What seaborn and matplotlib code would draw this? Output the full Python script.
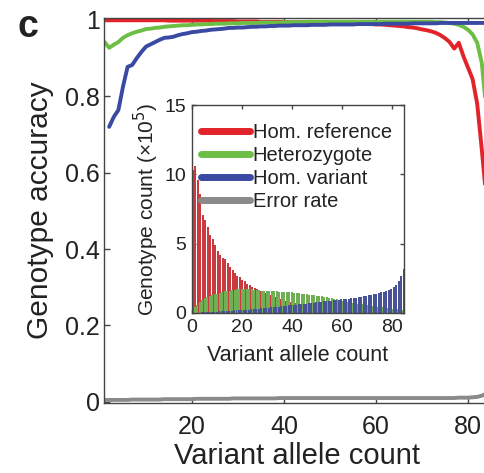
import numpy as np
import pandas as pd
import matplotlib
matplotlib.use("Agg")
import matplotlib.pyplot as plt
import seaborn as sns

# main panel: genotype accuracy vs variant allele count (x = 1..85)
acc_x = list(range(1, 86))
acc_homref = [0.999, 0.999, 0.999, 0.999, 0.999, 0.999, 0.999, 0.999, 0.999, 0.999,
              0.999, 0.999, 0.999, 0.999, 0.998, 0.998, 0.998, 0.998, 0.998, 0.998,
              0.998, 0.998, 0.998, 0.997, 0.997, 0.997, 0.997, 0.997, 0.997, 0.996,
              0.996, 0.996, 0.996, 0.996, 0.995, 0.995, 0.995, 0.995, 0.995, 0.995,
              0.994, 0.994, 0.994, 0.994, 0.993, 0.993, 0.993, 0.993, 0.992, 0.992,
              0.992, 0.991, 0.991, 0.991, 0.990, 0.990, 0.990, 0.989, 0.989, 0.988,
              0.988, 0.987, 0.986, 0.985, 0.984, 0.983, 0.981, 0.980, 0.978, 0.975,
              0.973, 0.970, 0.966, 0.960, 0.952, 0.942, 0.925, 0.940, 0.905, 0.875,
              0.845, 0.780, 0.660, 0.530, 0.380]
acc_het = [0.942, 0.927, 0.935, 0.942, 0.953, 0.960, 0.965, 0.969, 0.972, 0.976,
           0.977, 0.979, 0.980, 0.982, 0.983, 0.984, 0.985, 0.986, 0.986, 0.987,
           0.988, 0.988, 0.989, 0.989, 0.990, 0.990, 0.990, 0.991, 0.991, 0.991,
           0.992, 0.992, 0.992, 0.992, 0.993, 0.993, 0.993, 0.993, 0.993, 0.994,
           0.994, 0.994, 0.994, 0.994, 0.995, 0.995, 0.995, 0.995, 0.995, 0.995,
           0.995, 0.995, 0.995, 0.995, 0.995, 0.995, 0.995, 0.995, 0.995, 0.995,
           0.995, 0.995, 0.995, 0.995, 0.995, 0.995, 0.995, 0.995, 0.995, 0.995,
           0.995, 0.995, 0.994, 0.994, 0.993, 0.992, 0.990, 0.987, 0.982, 0.974,
           0.962, 0.940, 0.887, 0.760, 0.600]
acc_homvar = [np.nan, 0.720, 0.746, 0.764, 0.825, 0.877, 0.882, 0.900, 0.916, 0.930,
              0.936, 0.942, 0.948, 0.953, 0.954, 0.956, 0.960, 0.963, 0.965, 0.968,
              0.969, 0.971, 0.972, 0.974, 0.975, 0.976, 0.977, 0.979, 0.979, 0.980,
              0.980, 0.981, 0.982, 0.982, 0.983, 0.983, 0.984, 0.984, 0.985, 0.985,
              0.985, 0.986, 0.986, 0.986, 0.986, 0.987, 0.987, 0.987, 0.987, 0.988,
              0.988, 0.988, 0.988, 0.988, 0.988, 0.989, 0.989, 0.989, 0.989, 0.989,
              0.989, 0.990, 0.990, 0.990, 0.990, 0.990, 0.990, 0.991, 0.991, 0.991,
              0.991, 0.991, 0.991, 0.992, 0.992, 0.992, 0.992, 0.992, 0.992, 0.992,
              0.992, 0.992, 0.992, 0.992, 0.992]
err_rate = [0.005, 0.005, 0.005, 0.005, 0.005, 0.005, 0.006, 0.006, 0.006, 0.006,
            0.006, 0.006, 0.006, 0.007, 0.007, 0.007, 0.007, 0.007, 0.007, 0.007,
            0.008, 0.008, 0.008, 0.008, 0.008, 0.008, 0.008, 0.008, 0.009, 0.009,
            0.009, 0.009, 0.009, 0.009, 0.009, 0.009, 0.009, 0.009, 0.010, 0.010,
            0.010, 0.010, 0.010, 0.010, 0.010, 0.010, 0.010, 0.010, 0.010, 0.010,
            0.010, 0.010, 0.010, 0.010, 0.010, 0.010, 0.010, 0.010, 0.010, 0.010,
            0.010, 0.010, 0.010, 0.010, 0.010, 0.010, 0.010, 0.010, 0.010, 0.010,
            0.010, 0.010, 0.010, 0.010, 0.010, 0.010, 0.010, 0.011, 0.011, 0.011,
            0.012, 0.013, 0.016, 0.022, 0.030]

# inset: genotype counts (x 10^5) vs variant allele count (x = 0..84)
cnt_x = list(range(0, 85))
cnt_homref = [8.0, 10.3, 10.6, 9.6, 8.6, 7.1, 6.7, 6.2, 5.6, 5.3,
              4.9, 4.5, 4.2, 4.0, 3.9, 3.6, 3.3, 3.1, 2.9, 2.7,
              2.6, 2.4, 2.3, 2.1, 2.0, 1.9, 1.8, 1.7, 1.6, 1.5,
              1.45, 1.4, 1.3, 1.2, 1.15, 1.1, 1.0, 0.95, 0.9, 0.85,
              0.8, 0.75, 0.7, 0.68, 0.65, 0.6, 0.57, 0.55, 0.5, 0.48,
              0.45, 0.43, 0.4, 0.38, 0.35, 0.33, 0.3, 0.28, 0.27, 0.25,
              0.23, 0.22, 0.2, 0.19, 0.18, 0.17, 0.16, 0.15, 0.14, 0.13,
              0.12, 0.12, 0.11, 0.1, 0.1, 0.09, 0.09, 0.08, 0.08, 0.07,
              0.07, 0.06, 0.06, 0.05, 0.05]
cnt_het = [0.2, 0.4, 0.6, 0.8, 0.95, 1.05, 1.15, 1.2, 1.3, 1.35,
           1.4, 1.45, 1.5, 1.55, 1.6, 1.62, 1.65, 1.68, 1.7, 1.72,
           1.72, 1.73, 1.72, 1.7, 1.7, 1.68, 1.66, 1.65, 1.62, 1.6,
           1.6, 1.58, 1.57, 1.55, 1.55, 1.54, 1.53, 1.52, 1.5, 1.5,
           1.48, 1.47, 1.45, 1.43, 1.4, 1.38, 1.35, 1.32, 1.3, 1.27,
           1.25, 1.22, 1.2, 1.17, 1.13, 1.1, 1.06, 1.02, 0.98, 0.94,
           0.9, 0.86, 0.82, 0.78, 0.75, 0.72, 0.68, 0.65, 0.62, 0.58,
           0.55, 0.52, 0.5, 0.47, 0.44, 0.42, 0.4, 0.37, 0.35, 0.33,
           0.3, 0.28, 0.26, 0.24, 0.22]
cnt_homvar = [0.02, 0.03, 0.03, 0.05, 0.06, 0.06, 0.08, 0.09, 0.1, 0.1,
              0.12, 0.12, 0.14, 0.15, 0.15, 0.17, 0.18, 0.18, 0.2, 0.21,
              0.22, 0.23, 0.25, 0.27, 0.28, 0.3, 0.31, 0.33, 0.34, 0.36,
              0.38, 0.4, 0.41, 0.43, 0.45, 0.47, 0.49, 0.52, 0.55, 0.57,
              0.58, 0.6, 0.62, 0.64, 0.66, 0.68, 0.7, 0.72, 0.75, 0.77,
              0.8, 0.82, 0.84, 0.86, 0.88, 0.9, 0.92, 0.94, 0.96, 0.98,
              1.0, 1.02, 1.04, 1.06, 1.08, 1.1, 1.13, 1.16, 1.2, 1.25,
              1.3, 1.33, 1.37, 1.4, 1.45, 1.48, 1.52, 1.58, 1.65, 1.75,
              1.9, 2.05, 2.3, 2.7, 3.2]

labels = ["Hom. reference", "Heterozygote", "Hom. variant", "Error rate"]
colors = ["#e2232a", "#6cbe45", "#3a4aa3", "#8a8a8a"]

sns.set_theme(style="ticks")
plt.rcParams["font.family"] = ["Liberation Sans", "DejaVu Sans"]
txt = "#222222"

acc_df = pd.DataFrame({
    "x": acc_x * 4,
    "y": acc_homref + acc_het + acc_homvar + err_rate,
    "series": sum([[l] * len(acc_x) for l in labels], []),
})
cnt_df = pd.DataFrame({
    "x": cnt_x * 3,
    "y": cnt_homref + cnt_het + cnt_homvar,
    "series": sum([[l] * len(cnt_x) for l in labels[:3]], []),
})

fig = plt.figure(figsize=(4.85, 4.73), dpi=100)
ax = fig.add_axes([0.2144, 0.148, 0.798, 0.814])
sns.lineplot(data=acc_df, x="x", y="y", hue="series", hue_order=labels,
             palette=colors, linewidth=2.8, legend=False, ax=ax, estimator=None)
ax.set_xlim(0.87, 85)
ax.set_ylim(-0.003, 1.005)
ax.set_xticks([20, 40, 60, 80])
ax.set_yticks([0, 0.2, 0.4, 0.6, 0.8, 1])
ax.set_yticklabels(["0", "0.2", "0.4", "0.6", "0.8", "1"])
ax.tick_params(direction="in", length=4, width=1, colors="#444444",
               labelcolor=txt, labelsize=18, top=True)
ax.tick_params(axis="x", pad=9)
ax.tick_params(axis="y", pad=3)
ax.set_xlabel("Variant allele count", fontsize=21, color=txt, labelpad=2)
ax.set_ylabel("Genotype accuracy", fontsize=21.5, color=txt, labelpad=8)
for s in ax.spines.values():
    s.set_color("#444444")
    s.set_linewidth(1)
fig.text(0.036, 0.943, "c", fontsize=27, fontweight="bold", color=txt,
         ha="left", va="center")

# inset with grouped bars
ax_in = fig.add_axes([0.3959, 0.3383, 0.437, 0.4397])
sns.barplot(data=cnt_df, x="x", y="y", hue="series", hue_order=labels[:3],
            palette=colors[:3], native_scale=True, dodge=True, width=2.4,
            linewidth=0, legend=False, ax=ax_in)
ax_in.set_xlim(0, 84.8)
ax_in.set_ylim(0, 15)
ax_in.set_xticks([0, 20, 40, 60, 80])
ax_in.set_xticklabels(["0", "20", "40", "60", "80"])
ax_in.set_yticks([0, 5, 10, 15])
ax_in.tick_params(direction="in", length=3, width=1, colors="#444444",
                  labelcolor=txt, labelsize=14, top=True, right=True, pad=4)
ax_in.set_xlabel("Variant allele count", fontsize=15.5, color=txt, labelpad=7)
ax_in.set_ylabel("Genotype count (\u00d710$^5$)", fontsize=15, color=txt, labelpad=3)
for s in ax_in.spines.values():
    s.set_color("#444444")
    s.set_linewidth(1)

handles = ax.get_lines()[:4]
leg = ax_in.legend(handles, labels, loc="upper right", frameon=False,
                   fontsize=14.5, handlelength=2.4, handletextpad=0.15,
                   labelspacing=0.2, borderaxespad=0.2,
                   bbox_to_anchor=(1.0, 0.97))
for h in leg.get_lines():
    h.set_linewidth(5)
for t in leg.get_texts():
    t.set_color(txt)

fig.savefig("out.png", dpi=100)
